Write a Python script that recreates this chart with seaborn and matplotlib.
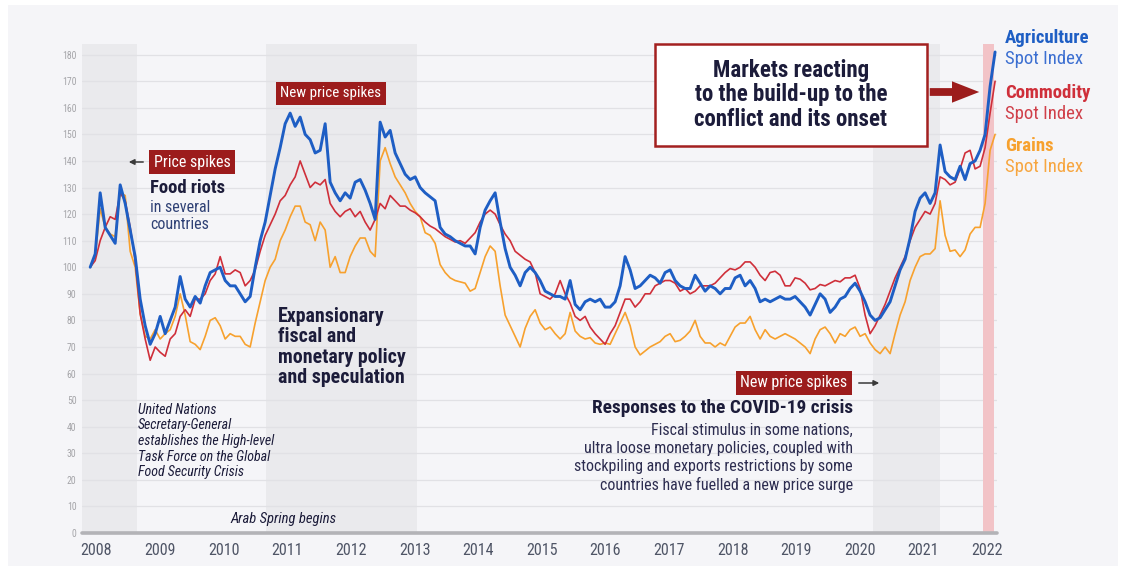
import matplotlib
matplotlib.use("Agg")
import pandas as pd
import matplotlib.pyplot as plt
from matplotlib import font_manager
from matplotlib.patches import Rectangle, FancyArrowPatch
import seaborn as sns

# index levels, roughly every 4 weeks from Jan 2008 to late Mar 2022
agriculture = [
    100, 105, 128, 115, 112, 109, 131, 124, 114, 104,
    88, 78, 71, 75, 81.5, 75, 80, 85, 96.5, 88,
    85, 89, 86.5, 93, 98, 99, 100, 95, 93, 93,
    90, 87, 89, 100, 110, 117, 127, 137, 145, 154,
    158, 153, 156.5, 150, 148, 143, 144, 154, 132, 128,
    125, 128, 126, 132, 133, 129, 124, 118, 154.6, 149,
    151.5, 143, 139, 135, 133, 134, 130, 128, 126.5, 125,
    115, 112.5, 111.5, 110, 109, 108, 108, 105, 115, 121.5,
    125, 128, 117, 107, 100, 97, 93, 98, 100, 98,
    95,
    91, 90, 89, 89, 88, 95, 86, 84, 87, 88,
    87, 88, 85, 85, 87, 93, 104, 99, 92, 93,
    95, 97, 96, 94, 98, 99, 95, 93, 92, 92,
    97, 94, 91, 93, 92, 90, 92, 92, 96, 97,
    93, 95, 92, 87, 88, 87, 88, 89, 88, 88,
    89, 87, 85, 82, 86, 90, 88, 83, 85, 88,
    89, 92, 94, 91, 87, 82, 80, 81, 84, 87,
    93, 99, 103, 111, 121, 126, 128, 124, 128, 146,
    136, 134, 133, 138, 133, 139, 140, 144, 150, 168,
    181,
]
commodity = [
    100, 102.5, 110, 115, 119, 118, 128, 125, 115, 102.5,
    82.5, 73, 65, 70, 68, 66.5, 73, 75, 81.5, 84,
    81.5, 88, 88, 90, 95, 97.5, 104, 97.5, 97.5, 99,
    98, 93, 95, 99, 106, 112, 116, 120, 125, 127,
    131, 134, 140, 135, 130, 132, 131, 133, 124, 121,
    119, 121, 122, 119, 121, 117, 114, 118, 124, 122,
    127, 125, 123, 123, 121.5, 120.5, 119, 117, 115.5, 114.5,
    113, 111.5, 110.5, 109.5, 110, 109, 111, 113, 117, 120,
    121.5, 120, 116, 112.5, 110, 106, 104.5, 103, 102, 98,
    90,
    89, 88, 90, 95, 90, 86.5, 81.5, 80, 81.5, 77.5,
    75, 73, 71, 75, 78, 83, 88, 88, 85, 87,
    90, 90, 93, 94, 95, 95, 94, 91, 92, 90,
    91, 93, 93, 93, 94, 96, 98, 99.5, 99, 100,
    102, 102, 100, 97, 95, 98, 98.5, 97, 93, 93,
    96, 95.5, 94, 91.5, 92, 93.5, 93, 94, 95, 94.5,
    96, 96, 97, 92, 82, 75, 78, 82, 86, 91,
    96, 100, 104, 110, 115, 118, 121, 120, 124, 134,
    133, 131, 132, 137, 143, 144, 137, 138, 145, 158,
    170,
]
grains = [
    100, 104, 122, 115, 112.5, 111.5, 128, 127, 106, 100,
    82.5, 74, 73, 76.5, 73, 75, 76.5, 81.5, 90, 82,
    72, 71, 69, 74, 80, 81, 78, 73, 75, 74,
    74, 71, 70, 79, 87, 95, 100, 103, 110, 114,
    119, 123, 123, 117, 116, 110, 117, 114, 100, 104,
    98, 98, 104, 108, 111, 111, 106, 104, 140, 145,
    139, 134, 131, 128, 124, 121, 119, 113, 112, 109,
    101, 98, 96, 95, 94.5, 94, 91, 92, 98, 104,
    108, 106, 93, 82, 78, 74, 70, 77, 81.5, 84,
    79,
    76.5, 77.5, 75, 73, 75, 83, 76, 74, 73, 73.5,
    71.5, 71, 71.5, 71, 75, 79, 83, 78, 70, 67,
    68.5, 70, 71, 72, 74, 75, 72, 72.5, 74, 76,
    80, 74, 71.5, 71.5, 70, 71.5, 70.5, 74, 77.5, 79,
    79, 81.5, 76.5, 73, 76.5, 74, 73, 74, 75, 74,
    73, 71.5, 70, 67.5, 73, 76.5, 77.5, 75, 71.5, 75,
    74, 76.5, 77.5, 74, 75, 71.5, 69, 67.5, 70, 67.5,
    75, 82, 87, 95, 100, 104, 105, 105, 107, 125,
    112, 106, 106.5, 104, 106.5, 112.5, 115, 115, 124, 144,
    150,
]
years = list(range(2008, 2023))
crisis_spans = [("2007-11-15", "2008-09-27"), ("2010-10-08", "2013-02-21"), ("2020-04-20", "2021-05-15")]
conflict_span = ("2022-01-15", "2022-03-17")

dates = pd.date_range("2008-01-01", "2022-03-25", periods=len(agriculture))
df = pd.DataFrame({"date": dates, "Agriculture": agriculture,
                   "Commodity": commodity, "Grains": grains})
df = df.melt(id_vars="date", var_name="index", value_name="value")

sns.set_style("white")
names = {f.name for f in font_manager.fontManager.ttflist}
narrow = next((n for n in ["Liberation Sans Narrow", "Roboto Condensed", "Arial Narrow",
                           "Liberation Sans"] if n in names), "DejaVu Sans")
plt.rcParams["font.family"] = [narrow, "DejaVu Sans"]

W, H = 1126, 577
def P(x, y):
    return (x / W, 1 - y / H)

BLUE, RED, ORANGE, DARKRED, INK = "#1e5ec4", "#cf2f3a", "#f7a12e", "#9c1c1c", "#1c1c3a"

fig = plt.figure(figsize=(W / 100, H / 100), dpi=100)
fig.patch.set_facecolor("white")
fig.add_artist(Rectangle(P(8, 566), 1110 / W, 561 / H, transform=fig.transFigure,
                         fc="#f5f5f8", ec="none", zorder=0))

ax = fig.add_axes([82 / W, 1 - 533 / H, (997 - 82) / W, (533 - 44) / H])
ax.set_facecolor("#f5f5f8")

for a, b in crisis_spans:
    ax.axvspan(pd.Timestamp(a), pd.Timestamp(b), color="#eaeaed", lw=0, zorder=0)
ax.axvspan(pd.Timestamp(conflict_span[0]), pd.Timestamp(conflict_span[1]),
           color="#f2c3c7", lw=0, zorder=0.6)

ax.set_yticks(range(0, 190, 10))
ax.grid(axis="y", color="#e1e1e5", lw=0.9)
ax.grid(axis="x", visible=False)
ax.set_axisbelow(True)

for name, color, lw in [("Grains", ORANGE, 1.2), ("Commodity", RED, 1.2), ("Agriculture", BLUE, 2.1)]:
    sns.lineplot(data=df[df["index"] == name], x="date", y="value", color=color,
                 lw=lw, ax=ax, zorder=3)

ax.axhline(0, color="#b3b3b7", lw=2.6, zorder=2, clip_on=False)
ax.set_xlim(pd.Timestamp("2007-11-15"), pd.Timestamp("2022-04-05"))
ax.set_ylim(0, 184)
ax.set_xticks([pd.Timestamp(f"{y}-02-06") for y in years])
ax.set_xticklabels([str(y) for y in years])
ax.tick_params(axis="x", length=0, pad=7, labelsize=11.5, labelcolor="#4f5566")
ax.tick_params(axis="y", length=0, pad=4, labelsize=7, labelcolor="#a5a5a9")
ax.set_xlabel("")
ax.set_ylabel("")
for s in ax.spines.values():
    s.set_visible(False)

tag = dict(boxstyle="square,pad=0.3", fc=DARKRED, ec="none")
fig.text(*P(192, 162), "Price spikes", ha="center", va="center", color="white",
         fontsize=11.5, bbox=tag)
fig.add_artist(FancyArrowPatch(P(146, 162), P(126, 162), transform=fig.transFigure,
                               arrowstyle="-|>", mutation_scale=8, color="#3a3a3a", lw=1.1))
fig.text(*P(150, 188), "Food riots", ha="left", va="center", fontsize=13.4,
         fontweight="bold", color=INK)
fig.text(*P(150, 216), "in several\ncountries", ha="left", va="center", fontsize=11.5,
         color="#2f4175", linespacing=1.12)

fig.text(*P(331, 93), "New price spikes", ha="center", va="center", color="white",
         fontsize=10.8, bbox=tag)
fig.text(*P(278, 347), "Expansionary\nfiscal and\nmonetary policy\nand speculation",
         ha="left", va="center", fontsize=14.3, fontweight="bold", color=INK, linespacing=1.08)

fig.text(*P(138, 441), "United Nations\nSecretary-General\nestablishes the High-level\n"
         "Task Force on the Global\nFood Security Crisis", ha="left", va="center",
         fontsize=10, style="italic", color=INK, linespacing=1.14)
fig.text(*P(284, 519), "Arab Spring begins", ha="center", va="center", fontsize=10.5,
         style="italic", color=INK)

fig.text(*P(794, 383), "New price spikes", ha="center", va="center", color="white",
         fontsize=11.5, bbox=tag)
fig.add_artist(FancyArrowPatch(P(856, 383), P(882, 383), transform=fig.transFigure,
                               arrowstyle="-|>", mutation_scale=8, color="#3a3a3a", lw=1.1))
fig.text(*P(853, 408), "Responses to the COVID-19 crisis", ha="right", va="center",
         fontsize=13.9, fontweight="bold", color=INK)
fig.text(*P(853, 458), "Fiscal stimulus in some nations,\nultra loose monetary policies, coupled with\n"
         "stockpiling and exports restrictions by some\ncountries have fuelled a new price surge",
         ha="right", va="center", fontsize=11.5, color="#2d2d50", linespacing=1.25)

fig.add_artist(Rectangle(P(655, 146), 272 / W, 102 / H, transform=fig.transFigure,
                         fc="white", ec="#a32020", lw=1.8, zorder=5))
fig.text(*P(791, 95), "Markets reacting\nto the build-up to the\nconflict and its onset",
         ha="center", va="center", fontsize=16.5, fontweight="bold", color=INK,
         linespacing=1.1, zorder=6)
fig.add_artist(FancyArrowPatch(P(927, 92), P(982, 92), transform=fig.transFigure,
                               arrowstyle="simple,head_length=1.4,head_width=1.1,tail_width=0.4",
                               mutation_scale=14, color=DARKRED, lw=0, zorder=6))

legend = [("Agriculture", BLUE, "#3c6fd1", 38), ("Commodity", RED, "#d0404a", 93),
          ("Grains", ORANGE, "#f7a640", 146)]
for label, c1, c2, y in legend:
    fig.text(*P(1005, y), label, ha="left", va="center", fontsize=13.5,
             fontweight="bold", color=c1)
    fig.text(*P(1005, y + 21), "Spot Index", ha="left", va="center", fontsize=13.5, color=c2)

fig.savefig("out.png", dpi=100, facecolor=fig.get_facecolor())
